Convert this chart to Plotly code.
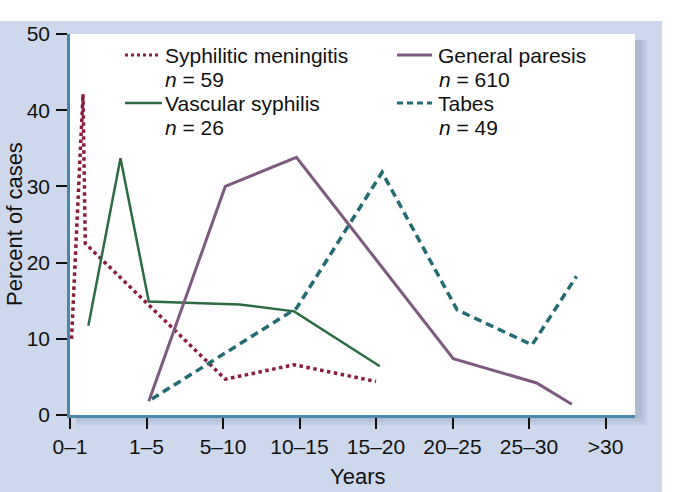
import plotly.graph_objects as go

# ---- data ----
tick_vals = [0, 1, 2, 3, 4, 5, 6, 7]
tick_text = ["0\u20131", "1\u20135", "5\u201310", "10\u201315", "15\u201320", "20\u201325", "25\u201330", ">30"]
y_ticks = [0, 10, 20, 30, 40, 50]

men_x = [0.02, 0.17, 0.20, 2.03, 2.93, 4.00]
men_y = [10.0, 42.1, 22.5, 4.7, 6.6, 4.4]

vas_x = [0.24, 0.66, 1.03, 2.22, 2.93, 4.05]
vas_y = [11.7, 33.7, 14.9, 14.5, 13.6, 6.4]

gp_x = [1.03, 2.03, 2.96, 5.01, 6.10, 6.56]
gp_y = [1.8, 30.0, 33.8, 7.4, 4.2, 1.4]

tab_x = [1.07, 2.96, 4.08, 5.06, 6.04, 6.62]
tab_y = [2.1, 14.0, 31.85, 13.8, 9.2, 18.2]

series_names = ["Syphilitic meningitis", "Vascular syphilis", "General paresis", "Tabes"]
series_n = [59, 26, 610, 49]

# ---- styles ----
C_MEN = "#8c1c3e"
C_VAS = "#2b6c43"
C_GP = "#7c5b7e"
C_TAB = "#226c72"
AX = "#4a87ac"
BG = "#cdd8ec"
FONT = "Liberation Sans, Arial, sans-serif"

W, H = 685, 492
L, R, T, B = 70, 50, 34, 77
PW, PH = W - L - R, H - T - B
XMAX = PW / 76.5


def px(xp):
    return (xp - L) / PW


def py(yp):
    return (H - B - yp) / PH


fig = go.Figure()
fig.add_trace(go.Scatter(x=men_x, y=men_y, mode="lines", name=series_names[0],
                         line=dict(color=C_MEN, width=3.5, dash="dot")))
fig.add_trace(go.Scatter(x=vas_x, y=vas_y, mode="lines", name=series_names[1],
                         line=dict(color=C_VAS, width=2.5)))
fig.add_trace(go.Scatter(x=gp_x, y=gp_y, mode="lines", name=series_names[2],
                         line=dict(color=C_GP, width=3)))
fig.add_trace(go.Scatter(x=tab_x, y=tab_y, mode="lines", name=series_names[3],
                         line=dict(color=C_TAB, width=3.5, dash="8px,5px")))

shapes = []
# blue panel
shapes.append(dict(type="rect", xref="paper", yref="paper", layer="below",
                   x0=px(0), x1=px(662), y0=py(492), y1=py(21),
                   line=dict(width=0), fillcolor=BG))
# soft shadow of the plot area
for off, col in [(12, "#c2cce2"), (9, "#b8c3db"), (6, "#aeb9d2")]:
    shapes.append(dict(type="rect", xref="paper", yref="paper", layer="below",
                       x0=px(L + 6), x1=px(L + PW + off), y0=py(H - B + off - 2), y1=py(T + 6),
                       line=dict(width=0), fillcolor=col))
# white plot area
shapes.append(dict(type="rect", xref="paper", yref="paper", layer="below",
                   x0=0, x1=1, y0=0, y1=1, line=dict(width=0), fillcolor="white"))

# legend samples
rows = [55, 79, 103, 127]
leg = [
    (125, 161, rows[0], C_MEN, 3, "dot"),
    (125, 162, rows[2], C_VAS, 2.5, "solid"),
    (397, 432, rows[0], C_GP, 3, "solid"),
    (397, 432, rows[2], C_TAB, 3, "6px,4px"),
]
for x0, x1, yy, c, w, d in leg:
    shapes.append(dict(type="line", xref="paper", yref="paper",
                       x0=px(x0), x1=px(x1), y0=py(yy), y1=py(yy),
                       line=dict(color=c, width=w, dash=d)))

annotations = []
leg_text = [
    (163, rows[0], series_names[0]), (163, rows[1], "<i>n</i> = %d" % series_n[0]),
    (163, rows[2], series_names[1]), (163, rows[3], "<i>n</i> = %d" % series_n[1]),
    (436, rows[0], series_names[2]), (437, rows[1], "<i>n</i> = %d" % series_n[2]),
    (436, rows[2], series_names[3]), (437, rows[3], "<i>n</i> = %d" % series_n[3]),
]
for xx, yy, t in leg_text:
    annotations.append(dict(text=t, xref="paper", yref="paper", x=px(xx), y=py(yy),
                            xanchor="left", yanchor="middle", showarrow=False,
                            font=dict(size=21, color="#111", family=FONT)))

annotations.append(dict(text="Percent of cases", xref="paper", yref="paper",
                        x=px(14.5), y=0.5, textangle=-90, showarrow=False,
                        xanchor="center", yanchor="middle",
                        font=dict(size=22, color="#111", family=FONT)))
annotations.append(dict(text="Years", xref="paper", yref="paper",
                        x=px(357), y=py(476), showarrow=False,
                        xanchor="center", yanchor="middle",
                        font=dict(size=22, color="#111", family=FONT)))

fig.update_layout(
    width=W, height=H,
    margin=dict(l=L, r=R, t=T, b=B, pad=0),
    paper_bgcolor="white",
    plot_bgcolor="rgba(0,0,0,0)",
    showlegend=False,
    shapes=shapes,
    annotations=annotations,
    font=dict(family=FONT, size=20, color="#111"),
    hovermode=False,
)
fig.update_xaxes(range=[0, XMAX], tickmode="array", tickvals=tick_vals, ticktext=tick_text,
                 showgrid=False, zeroline=False, showline=True, linecolor=AX, linewidth=2.5,
                 ticks="outside", ticklen=11, tickwidth=2, tickcolor="#111",
                 tickfont=dict(size=21, family=FONT, color="#111"), fixedrange=True)
fig.update_yaxes(range=[0, 50], tickmode="array", tickvals=y_ticks,
                 showgrid=False, zeroline=False, showline=True, linecolor=AX, linewidth=2.5,
                 ticks="outside", ticklen=11, tickwidth=2, tickcolor="#111",
                 ticklabelstandoff=2,
                 tickfont=dict(size=21, family=FONT, color="#111"), fixedrange=True)

fig.write_html("out.html", config={"displayModeBar": False},
               post_script="document.body.style.margin='0';document.body.style.overflow='hidden';")
